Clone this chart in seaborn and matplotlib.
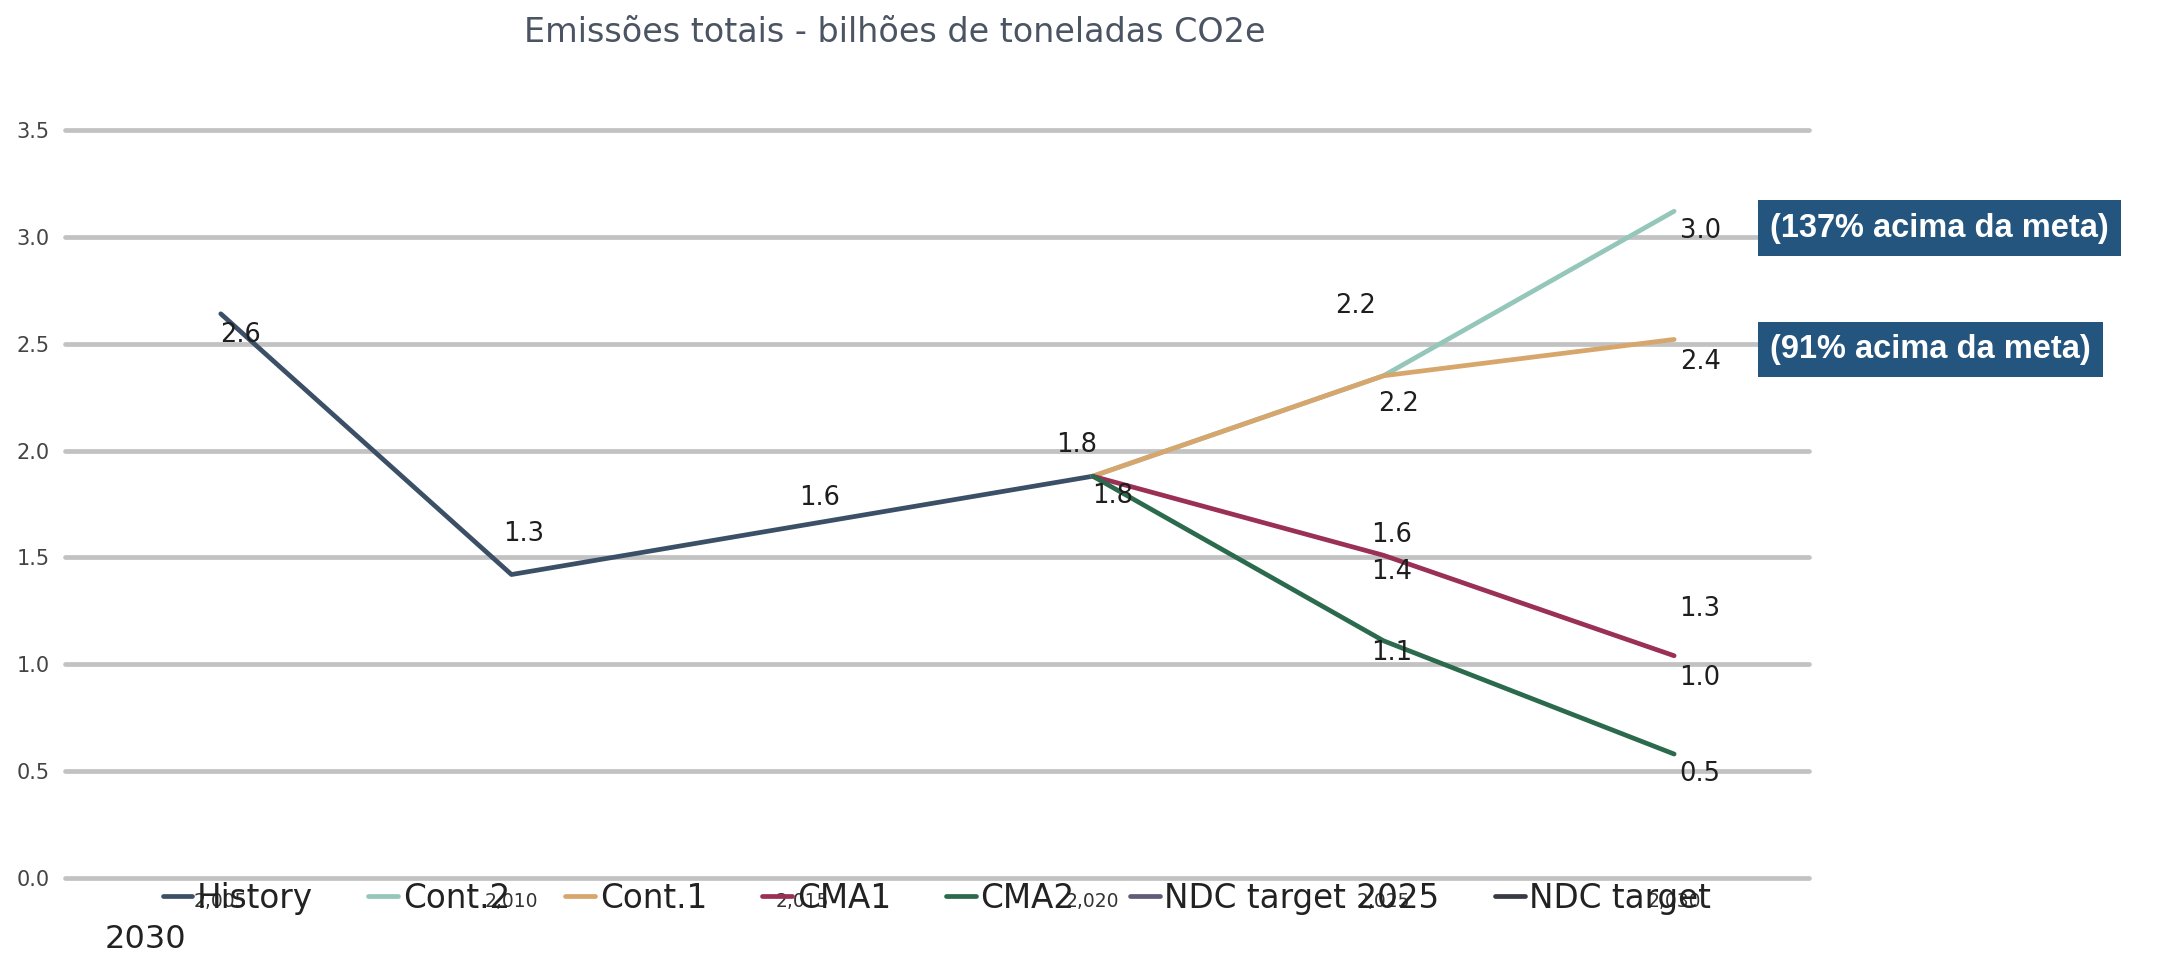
import matplotlib
matplotlib.use('Agg')
import matplotlib.pyplot as plt
import seaborn as sns
import pandas as pd

# series values (billion t CO2e)
hist_years = [2005, 2010, 2015, 2020]
history = [2.64, 1.42, 1.65, 1.88]
proj_years = [2020, 2025, 2030]
cont2 = [1.88, 2.35, 3.12]
cont1 = [1.88, 2.35, 2.52]
cma1 = [1.88, 1.51, 1.04]
cma2 = [1.88, 1.11, 0.58]

series_names = ["History", "Cont.2", "Cont.1", "CMA1", "CMA2",
                "NDC target 2025", "NDC target 2030"]
x_ticks = [2005, 2010, 2015, 2020, 2025, 2030]
y_ticks = [0.0, 0.5, 1.0, 1.5, 2.0, 2.5, 3.0, 3.5]

# data labels as printed on the chart
label_series = ["History", "History", "History", "History", "CMA1",
                "Cont.2", "Cont.1", "CMA1", "CMA1", "CMA2",
                "Cont.2", "Cont.1", "CMA1", "CMA1", "CMA2"]
label_years = [2005, 2010, 2015, 2020, 2020,
               2025, 2025, 2025, 2025, 2025,
               2030, 2030, 2030, 2030, 2030]
label_text = ["2.6", "1.3", "1.6", "1.8", "1.8",
              "2.2", "2.2", "1.6", "1.4", "1.1",
              "3.0", "2.4", "1.3", "1.0", "0.5"]

callout_series = ["Cont.2", "Cont.1"]
callout_text = ["(137% acima da meta)", "(91% acima da meta)"]

title = "Emissões totais - bilhões de toneladas CO2e"

rows = []
for y, v in zip(hist_years, history):
    rows.append(("History", y, v))
for name, vals in [("Cont.2", cont2), ("Cont.1", cont1), ("CMA1", cma1), ("CMA2", cma2)]:
    for y, v in zip(proj_years, vals):
        rows.append((name, y, v))
df = pd.DataFrame(rows, columns=["series", "year", "value"])

palette = {
    "History": "#3b4f66",
    "Cont.2": "#94c6ba",
    "Cont.1": "#d6a66c",
    "CMA1": "#9a3056",
    "CMA2": "#2c6a4e",
    "NDC target 2025": "#5e5c78",
    "NDC target 2030": "#363a44",
}

sns.set_style("white")
plt.rcParams['font.family'] = ['DejaVu Sans']

fig = plt.figure(figsize=(21.69, 9.59), dpi=100)
ax = fig.add_axes([65 / 2169, 1 - 878 / 959, (1809 - 65) / 2169, (878 - 130) / 959])

sns.lineplot(data=df, x="year", y="value", hue="series", hue_order=series_names,
             palette=palette, linewidth=3.4, estimator=None, sort=True, ax=ax)

ax.set_xlim(2002.32, 2032.32)
ax.set_ylim(0, 3.5)
ax.set_yticks(y_ticks)
ax.set_yticklabels([f"{v:.1f}" for v in y_ticks], fontsize=15, color="#444444")
ax.set_xticks(x_ticks)
ax.set_xticklabels([f"{v:,}" for v in x_ticks], fontsize=13.5, color="#333333")
ax.tick_params(axis="both", length=0)
ax.tick_params(axis="y", pad=11)
ax.tick_params(axis="x", pad=10)
ax.set_xlabel("")
ax.set_ylabel("")
for s in ax.spines.values():
    s.set_visible(False)
ax.grid(axis="y", color="#c2c2c2", linewidth=3.4)
ax.grid(axis="x", visible=False)
ax.set_axisbelow(True)
for gl in ax.get_ygridlines():
    gl.set_clip_on(False)

# data labels
lookup = {(r.series, r.year): r.value for r in df.itertuples()}
label_offsets = [(20, 21), (12, -41), (17, -27), (-16, -31), (20, 20),
                 (-28, -70), (15, 28), (8, -20), (8, 17), (8, 12),
                 (26, 20), (26, 23), (26, -47), (26, 22), (26, 20)]
for s, yr, txt, (dx, dy) in zip(label_series, label_years, label_text, label_offsets):
    ax.annotate(txt, xy=(yr, lookup[(s, yr)]), xytext=(dx, -dy),
                textcoords="offset pixels", ha="center", va="center",
                fontsize=18.5, color="#1e1e1e", annotation_clip=False)

# callout boxes
callout_offsets = [(96, -17), (96, -10)]
for s, txt, (dx, dy) in zip(callout_series, callout_text, callout_offsets):
    ax.annotate(txt, xy=(2030, lookup[(s, 2030)]), xytext=(dx, dy),
                textcoords="offset pixels", ha="left", va="center",
                fontsize=23.5, fontweight="bold", color="white",
                family=["Liberation Sans", "DejaVu Sans"],
                bbox=dict(boxstyle="square,pad=0.38", fc="#23557f", ec="none"),
                annotation_clip=False)

sns.move_legend(ax, "center", bbox_to_anchor=(0.5, -0.027), ncol=7, frameon=False,
                title=None, fontsize=23.5, handlelength=0.9, handletextpad=0.15,
                columnspacing=1.7)
leg = ax.get_legend()
for t in leg.get_texts():
    t.set_color("#222222")
    if t.get_text() == "NDC target 2030":
        t.set_text("NDC target")
fig.text(105 / 2169, 1 - 940 / 959, "2030", fontsize=23, color="#222222",
         ha="left", va="center")

fig.text(895 / 2169, 1 - 32 / 959, title, fontsize=24, color="#4b5462",
         ha="center", va="center")

fig.savefig("out.png", dpi=100)
